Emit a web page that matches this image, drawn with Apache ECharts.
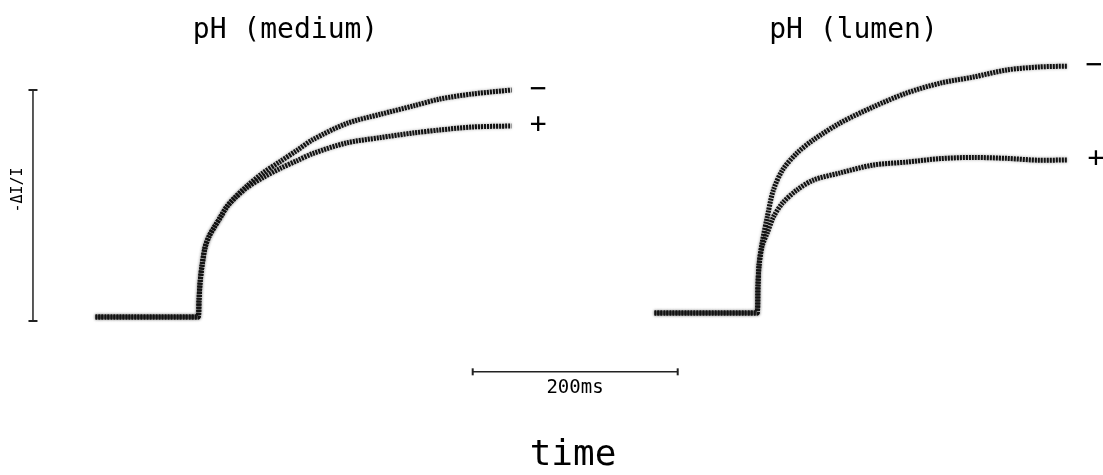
<!DOCTYPE html>
<html>
<head>
<meta charset="utf-8">
<script src="https://cdn.jsdelivr.net/npm/echarts@6/dist/echarts.min.js"></script>
<style>
  html, body { margin: 0; padding: 0; background: #fff; }
  #chart { width: 1103px; height: 475px; }
</style>
</head>
<body>
<div id="chart"></div>
<script>
// time after the flash (ms) and -dI/I (the vertical scale bar = 100)
var mediumTime  = [-100, 0, 1, 2, 4, 7, 11, 16, 22, 28, 36, 48, 63, 80, 97, 112, 145, 178, 210, 236, 268, 306];
var mediumMinus = [1.7, 1.7, 9.1, 16.5, 24.2, 32.0, 36.8, 40.7, 45.0, 49.4, 53.5, 58.5, 64.0, 69.0, 74.0, 78.5, 85.5, 89.5, 93.1, 96.1, 98.3, 100];
var mediumPlus  = [1.7, 1.7, 9.1, 16.5, 24.2, 32.0, 36.8, 40.7, 45.0, 49.4, 53.2, 57.8, 62.0, 66.0, 69.5, 72.5, 77.1, 79.4, 81.4, 82.7, 84.0, 84.4];

var lumenTime  = [-100, 0, 1, 2, 5, 10, 16, 25, 39, 55, 81, 113, 146, 179, 211, 244, 276, 303];
var lumenMinus = [3.5, 3.5, 15.6, 24.2, 33.8, 45.0, 56.7, 65.4, 72.7, 78.4, 85.7, 92.6, 98.7, 103.0, 105.6, 108.7, 110.0, 110.3];
var lumenPlus  = [3.5, 3.5, 15.6, 24.2, 32.5, 38.1, 45.0, 51.1, 56.7, 61.0, 64.1, 67.5, 68.8, 70.3, 70.8, 70.4, 69.6, 69.7];

var panelTitles = ['pH (medium)', 'pH (lumen)'];
var traceSigns = ['\u2212', '+'];
var ampBar = [0, 100];        // vertical scale bar in -dI/I units
var timeBar = [268, 468];     // 200 ms scale bar
var timeBarLabel = '200ms';
var yLabel = '-\u0394I/I';
var xLabel = 'time';

var FONT = '"DejaVu Sans Mono", monospace';

function zip(t, v) {
    return t.map(function (x, i) { return [x, v[i]]; });
}

function trace(data, axis, sign, dist) {
    return {
        type: 'line',
        xAxisIndex: axis,
        yAxisIndex: axis,
        data: data,
        smooth: 0.3,
        showSymbol: false,
        silent: true,
        lineStyle: {
            color: '#111',
            width: 5,
            type: [2, 1],
            shadowColor: 'rgba(0,0,0,0.45)',
            shadowBlur: 3
        },
        endLabel: {
            show: true,
            formatter: sign,
            distance: dist,
            color: '#000',
            fontSize: 28,
            fontFamily: FONT
        }
    };
}

function axisPair(min, max) {
    return { type: 'value', min: min, max: max, show: false };
}

var chart = echarts.init(document.getElementById('chart'));
chart.setOption({
    animation: false,
    backgroundColor: '#fff',
    grid: [
        { left: 13.5, top: 43.8, width: 676.5, height: 346.5 },
        { left: 634, top: 43.8, width: 461.25, height: 346.5 }
    ],
    xAxis: [
        Object.assign(axisPair(-180, 480), { gridIndex: 0 }),
        Object.assign(axisPair(-120, 330), { gridIndex: 1 })
    ],
    yAxis: [
        Object.assign(axisPair(-30, 120), { gridIndex: 0 }),
        Object.assign(axisPair(-30, 120), { gridIndex: 1 })
    ],
    series: [
        trace(zip(mediumTime, mediumMinus), 0, traceSigns[0], 18),
        trace(zip(mediumTime, mediumPlus), 0, traceSigns[1], 18),
        trace(zip(lumenTime, lumenMinus), 1, traceSigns[0], 18),
        trace(zip(lumenTime, lumenPlus), 1, traceSigns[1], 20),
        {
            type: 'line',
            xAxisIndex: 0, yAxisIndex: 0,
            data: [[-161, ampBar[0]], [-161, ampBar[1]]],
            symbol: 'rect', symbolSize: [9, 2], showSymbol: true,
            itemStyle: { color: '#222' },
            lineStyle: { color: '#222', width: 1.5 }
        },
        {
            type: 'line',
            xAxisIndex: 0, yAxisIndex: 0,
            data: [[timeBar[0], -22], [timeBar[1], -22]],
            symbol: 'rect', symbolSize: [2, 7], showSymbol: true,
            itemStyle: { color: '#222' },
            lineStyle: { color: '#222', width: 1.5 }
        }
    ],
    graphic: [
        { type: 'text', x: 285.5, y: 31, style: { text: panelTitles[0], font: '28px ' + FONT, fill: '#000', align: 'center', verticalAlign: 'middle' } },
        { type: 'text', x: 853.5, y: 31, style: { text: panelTitles[1], font: '28px ' + FONT, fill: '#000', align: 'center', verticalAlign: 'middle' } },
        { type: 'text', x: 18, y: 190, rotation: Math.PI / 2, style: { text: yLabel, font: '15px ' + FONT, fill: '#000', align: 'center', verticalAlign: 'middle' } },
        { type: 'text', x: 575, y: 388, style: { text: timeBarLabel, font: '19px ' + FONT, fill: '#000', align: 'center', verticalAlign: 'middle' } },
        { type: 'text', x: 573, y: 456, style: { text: xLabel, font: '36px ' + FONT, fill: '#000', align: 'center', verticalAlign: 'middle' } }
    ]
});
</script>
</body>
</html>
